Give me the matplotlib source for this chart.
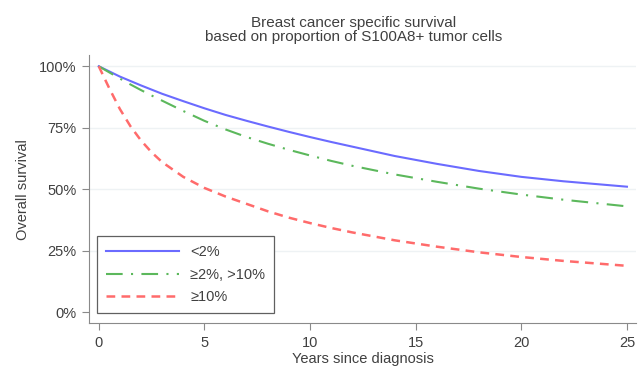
import matplotlib
matplotlib.use("Agg")
import matplotlib.pyplot as plt
from matplotlib.ticker import PercentFormatter

plt.rcParams["font.family"] = ["Liberation Sans", "DejaVu Sans"]

# years since diagnosis and survival (%)
years = [0, 0.5, 1, 1.5, 2, 2.5, 3, 4, 5, 6, 7, 8, 9, 10, 11, 12, 14, 16, 18, 20, 22, 25]
surv_lt2 = [100, 97.9, 95.8, 94.0, 92.2, 90.5, 88.8, 85.8, 82.9, 80.2, 77.8, 75.5,
            73.3, 71.2, 69.2, 67.3, 63.5, 60.3, 57.4, 55.0, 53.2, 51.0]
surv_2_10 = [100, 97.5, 95.0, 92.6, 90.3, 88.1, 86.0, 81.8, 77.8, 74.3, 71.2, 68.5,
             66.0, 63.7, 61.5, 59.5, 56.0, 53.0, 50.2, 47.8, 45.7, 43.0]
surv_ge10 = [100, 91.0, 82.6, 75.6, 69.8, 65.0, 61.0, 55.0, 50.5, 47.0, 44.0, 41.0,
             38.4, 36.2, 34.2, 32.4, 29.2, 26.6, 24.3, 22.4, 20.8, 18.8]

labels = ["<2%", "≥2%, >10%", "≥10%"]
yticks = [0, 25, 50, 75, 100]
xticks = [0, 5, 10, 15, 20, 25]

txt = "#404040"
fs = 10.5
fig = plt.figure(figsize=(6.39, 3.68), dpi=100)
ax = fig.add_axes([0.139, 0.122, 0.857, 0.728])

ax.plot(years, surv_lt2, color="#6b6bff", lw=1.5, label=labels[0])
ax.plot(years, surv_2_10, color="#5cb85c", lw=1.5, label=labels[1],
        dashes=(8, 4, 1, 4))
ax.plot(years, surv_ge10, color="#ff6b6b", lw=1.8, label=labels[2],
        dashes=(3.5, 2.5))

ax.set_xlim(-0.47, 25.45)
ax.set_ylim(-4.5, 104.5)
ax.set_xticks(xticks)
ax.set_yticks(yticks)
ax.yaxis.set_major_formatter(PercentFormatter(decimals=0))
for y in yticks[1:]:
    ax.axhline(y, color="#eef2f4", lw=1, zorder=0)

for s in ["top", "right"]:
    ax.spines[s].set_visible(False)
for s in ["left", "bottom"]:
    ax.spines[s].set_color("#8a8a8a")
ax.tick_params(colors="#8a8a8a", labelcolor=txt, labelsize=fs, length=5, pad=4)

ax.set_ylabel("Overall survival", color=txt, fontsize=fs, labelpad=6)
ax.set_xlabel("Years since diagnosis", color=txt, fontsize=fs, labelpad=2)
ax.set_title("Breast cancer specific survival\nbased on proportion of S100A8+ tumor cells",
             color=txt, fontsize=11, pad=10, linespacing=1.05, x=0.483)

leg = ax.legend(loc="lower left", bbox_to_anchor=(0.015, 0.037), fontsize=fs,
                borderaxespad=0, handlelength=5.0, fancybox=False, framealpha=1,
                edgecolor="#606060", borderpad=0.6, labelspacing=0.6)
leg.get_frame().set_linewidth(0.9)
for t in leg.get_texts():
    t.set_color(txt)

fig.savefig("out.png", dpi=100)
